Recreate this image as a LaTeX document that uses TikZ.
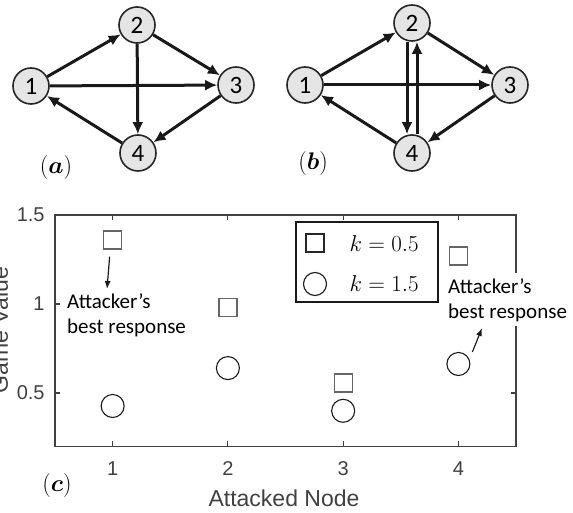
\RequirePackage{fix-cm}
\documentclass[tikz,border=0pt]{standalone}
\usepackage{amsmath}
\usepackage[no-math]{fontspec}
\setmainfont{Carlito}
\newfontfamily\axfont{Liberation Sans}
\usetikzlibrary{arrows.meta}
\tikzset{
	vert/.style={circle, draw=black!85, line width=1.6pt, fill=black!10,
		minimum size=36pt, inner sep=0pt, font=\fontsize{25}{25}\selectfont},
	edge/.style={line width=3pt, black!90, -{Latex[length=12pt,width=11pt]}},
	sqmark/.style={draw=black!60, line width=1.3pt, minimum size=18pt, inner sep=0pt},
	cimark/.style={circle, draw=black!90, line width=1.1pt, minimum size=23pt, inner sep=0pt},
	note/.style={align=left, inner sep=0pt, font=\fontsize{21}{25}\selectfont},
	notearrow/.style={line width=1.2pt, black!90, -{Latex[length=8pt,width=6pt]}},
	axlabel/.style={text=black!75, font=\axfont\fontsize{20}{20}\selectfont},
	panel/.style={font=\fontsize{24}{24}\selectfont},
	legtext/.style={anchor=west, font=\fontsize{23}{23}\selectfont}
}
\begin{document}
\begin{tikzpicture}[x=1pt,y=-1pt]
\useasboundingbox (0,0) rectangle (573,513);
% graph (a)
				\node[vert] (a1) at (31,86) {1};
				\node[vert] (a2) at (137,25) {2};
				\node[vert] (a3) at (236,85) {3};
				\node[vert] (a4) at (138,153) {4};
				\foreach \s/\t in {1/2,2/3,1/3,2/4,3/4,4/1}
				\draw[edge] (a\s) -- (a\t);
				\node[panel] (pa) at (56,168) {$(\boldsymbol{a})$};
% graph (b)
				\node[vert] (b1) at (305,85) {1};
				\node[vert] (b2) at (412,23) {2};
				\node[vert] (b3) at (510,85) {3};
				\node[vert] (b4) at (412,153) {4};
				\foreach \s/\t in {1/2,2/3,1/3,3/4,4/1}
				\draw[edge] (b\s) -- (b\t);
				\draw[edge] ([xshift=-5pt]b2.south) -- ([xshift=-5pt]b4.north);
				\draw[edge] ([xshift=5pt]b4.north) -- ([xshift=5pt]b2.south);
				\node[panel] (pb) at (313,164) {$(\boldsymbol{b})$};
% plot (c), data coordinates
\begin{scope}[shift={(-2.6,482)}, x=115.25pt, y=178pt]
    \draw[black!75, line width=1.1pt] (0.5,0.2) rectangle (4.5,1.5);
    % ticks
				\foreach \i in {1,2,3,4} {
				\draw[black!75, line width=1.1pt] (\i,0.2) -- (\i,0.228);
				\draw[black!75, line width=1.1pt] (\i,1.5) -- (\i,1.472);
				\node[axlabel] (xt\i) at (\i,0.073) {\i};
				}
				\foreach \y in {0.5,1,1.5} {
				\draw[black!75, line width=1.1pt] (0.5,\y) -- (0.544,\y);
				\draw[black!75, line width=1.1pt] (4.5,\y) -- (4.456,\y);
				\node[axlabel, anchor=east] (yt\y) at (0.44,\y) {\y};
				}
    % data
				\foreach \i/\v in {1/1.36,2/0.98,3/0.556,4/1.27}
				\node[sqmark] (sq\i) at (\i,\v) {};
				\foreach \i/\v in {1/0.427,2/0.64,3/0.40,4/0.663}
				\node[cimark] (ci\i) at (\i,\v) {};
\end{scope}
% axis labels
    \node[axlabel, font=\axfont\fontsize{23}{23}\selectfont] (xlab) at (284,498) {Attacked Node};
    \node[axlabel, font=\axfont\fontsize{23}{23}\selectfont, rotate=90, anchor=base] (ylab) at (8,330) {Game Value};
				\node[panel] (pc) at (57,485) {$(\boldsymbol{c})$};
% legend
				\node[draw=black!90, fill=white, line width=1.1pt, minimum width=142pt, minimum height=80pt] (legend) at (367,262) {};
				\node[sqmark, draw=black!85, line width=1.1pt] (lsq) at (315,243) {};
				\node[cimark] (lci) at (315,284) {};
				\node[legtext] (lk1) at (346,244) {$k=0.5$};
				\node[legtext] (lk2) at (346,284) {$k=1.5$};
% best responses
				\node[note, anchor=north west] (noteL) at (67,293) {Attacker's\\best response};
				\node[note, fill=white, inner xsep=3pt, inner ysep=5pt, anchor=north west] (noteR) at (445,273) {Attacker's\\best response};
				\coordinate (tipL) at (107,289);
				\coordinate (tipR) at (482,328);
				\draw[notearrow] ([shift={(-3pt,-7pt)}]sq1.south) -- (tipL);
				\draw[notearrow] ([shift={(14pt,12pt)}]ci4.center) -- (tipR);
\end{tikzpicture}
\end{document}
